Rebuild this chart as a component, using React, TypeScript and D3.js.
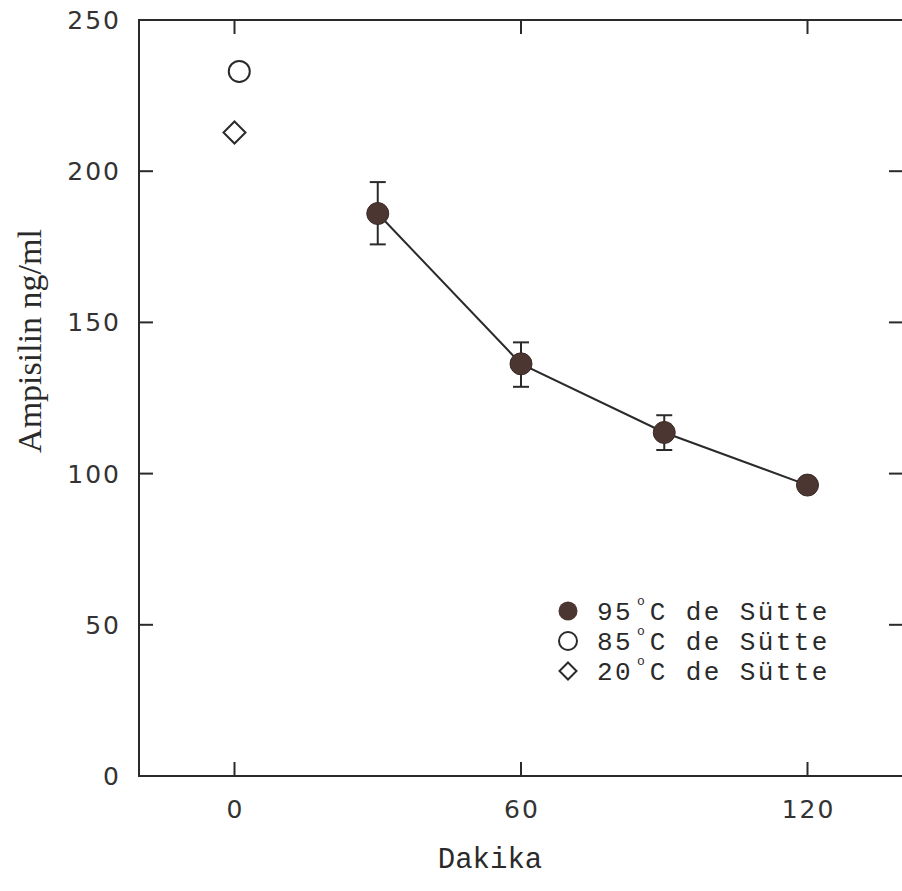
import React, { useEffect, useRef } from "react";
import * as d3 from "d3";

// 95 C series (mean with error bars)
const minutes95 = [30, 60, 90, 120];
const values95 = [186, 136.3, 113.6, 96.2];
const errLow95 = [175.8, 128.7, 107.8, 96.2];
const errHigh95 = [196.4, 143.4, 119.3, 96.2];

// single points at t=0
const point85 = { x: 1, y: 233 };
const point20 = { x: 0, y: 212.8 };

const xTicks = [0, 60, 120];
const yTicks = [0, 50, 100, 150, 200, 250];
const legendLabels = ["95", "85", "20"];

const Chart = () => {
  const ref = useRef<SVGSVGElement>(null);

  useEffect(() => {
    const width = 902;
    const height = 891;
    const left = 139,
      right = 903,
      top = 20,
      bottom = 776;
    const ink = "#2a2a2a";
    const dotFill = "#4b3631";

    const x = d3.scaleLinear([-20, 140], [left, right]);
    const y = d3.scaleLinear([0, 250], [bottom, top]);

    const svg = d3.select(ref.current);
    svg.selectAll("*").remove();
    svg.attr("width", width).attr("height", height).attr("viewBox", [0, 0, width, height]);

    svg.append("rect").attr("width", width).attr("height", height).attr("fill", "#fff");

    // frame
    svg
      .append("rect")
      .attr("x", left)
      .attr("y", top)
      .attr("width", right - left)
      .attr("height", bottom - top)
      .attr("fill", "none")
      .attr("stroke", ink)
      .attr("stroke-width", 2);

    const tickLen = 14;
    const g = svg.append("g").attr("stroke", ink).attr("stroke-width", 2);
    xTicks.forEach((t) => {
      g.append("line").attr("x1", x(t)).attr("x2", x(t)).attr("y1", bottom).attr("y2", bottom - tickLen);
      g.append("line").attr("x1", x(t)).attr("x2", x(t)).attr("y1", top).attr("y2", top + tickLen);
    });
    yTicks.slice(1, -1).forEach((t) => {
      g.append("line").attr("x1", left).attr("x2", left + tickLen).attr("y1", y(t)).attr("y2", y(t));
      g.append("line").attr("x1", right).attr("x2", right - tickLen).attr("y1", y(t)).attr("y2", y(t));
    });

    const tickFont = "'DejaVu Sans', sans-serif";
    svg
      .append("g")
      .selectAll("text")
      .data(xTicks)
      .join("text")
      .attr("x", (d) => x(d) + 1)
      .attr("y", bottom + 42)
      .attr("text-anchor", "middle")
      .attr("font-family", tickFont)
      .attr("font-size", 25)
      .attr("letter-spacing", 2)
      .attr("fill", "#333")
      .text((d) => d);

    svg
      .append("g")
      .selectAll("text")
      .data(yTicks)
      .join("text")
      .attr("x", 121)
      .attr("y", (d) => y(d) + 9)
      .attr("text-anchor", "end")
      .attr("font-family", tickFont)
      .attr("font-size", 25)
      .attr("letter-spacing", 2)
      .attr("fill", "#333")
      .text((d) => d);

    // axis titles
    svg
      .append("text")
      .attr("transform", `translate(41,341) rotate(-90)`)
      .attr("text-anchor", "middle")
      .attr("font-family", "'Liberation Serif', serif")
      .attr("font-size", 34)
      .attr("fill", ink)
      .text("Ampisilin ng/ml");

    svg
      .append("text")
      .attr("x", 490)
      .attr("y", 868)
      .attr("text-anchor", "middle")
      .attr("font-family", "'Liberation Mono', monospace")
      .attr("font-size", 29)
      .attr("fill", ink)
      .text("Dakika");

    // error bars
    const eb = svg.append("g").attr("stroke", ink).attr("stroke-width", 2);
    minutes95.forEach((m, i) => {
      if (errHigh95[i] - errLow95[i] < 1) return;
      const cx = x(m);
      eb.append("line").attr("x1", cx).attr("x2", cx).attr("y1", y(errHigh95[i])).attr("y2", y(errLow95[i]));
      eb.append("line").attr("x1", cx - 8).attr("x2", cx + 8).attr("y1", y(errHigh95[i])).attr("y2", y(errHigh95[i]));
      eb.append("line").attr("x1", cx - 8).attr("x2", cx + 8).attr("y1", y(errLow95[i])).attr("y2", y(errLow95[i]));
    });

    // connecting line
    const line = d3
      .line<number>()
      .x((d, i) => x(minutes95[i]))
      .y((d) => y(d));
    svg
      .append("path")
      .attr("d", line(values95))
      .attr("fill", "none")
      .attr("stroke", ink)
      .attr("stroke-width", 2);

    svg
      .append("g")
      .selectAll("circle")
      .data(values95)
      .join("circle")
      .attr("cx", (d, i) => x(minutes95[i]))
      .attr("cy", (d) => y(d))
      .attr("r", 11)
      .attr("fill", dotFill)
      .attr("stroke", "#3a2a26")
      .attr("stroke-width", 1);

    const diamond = (cx: number, cy: number, r: number) =>
      `M${cx},${cy - r}L${cx + r},${cy}L${cx},${cy + r}L${cx - r},${cy}Z`;

    svg
      .append("circle")
      .attr("cx", x(point85.x))
      .attr("cy", y(point85.y))
      .attr("r", 10.5)
      .attr("fill", "#fff")
      .attr("stroke", ink)
      .attr("stroke-width", 2);

    svg
      .append("path")
      .attr("d", diamond(x(point20.x), y(point20.y), 11))
      .attr("fill", "#fff")
      .attr("stroke", ink)
      .attr("stroke-width", 2);

    // legend
    const lg = svg.append("g");
    const lx = 568;
    const rows = [611, 641, 671];
    lg.append("circle").attr("cx", lx).attr("cy", rows[0]).attr("r", 9.5).attr("fill", dotFill);
    lg.append("circle").attr("cx", lx).attr("cy", rows[1]).attr("r", 9).attr("fill", "none").attr("stroke", ink).attr("stroke-width", 2);
    lg.append("path").attr("d", diamond(lx, rows[2], 8.5)).attr("fill", "none").attr("stroke", ink).attr("stroke-width", 2);

    legendLabels.forEach((lab, i) => {
      const t = lg
        .append("text")
        .attr("x", 597)
        .attr("y", rows[i] + 9)
        .attr("font-family", "'Liberation Mono', monospace")
        .attr("font-size", 26)
        .attr("letter-spacing", 2.4)
        .attr("fill", ink);
      t.append("tspan").text(lab);
      t.append("tspan").attr("font-size", 13).attr("letter-spacing", 0).attr("dx", 4).attr("dy", -15).text("o");
      t.append("tspan").attr("dx", 5).attr("dy", 15).text("C de Sütte");
    });
  }, []);

  return <svg ref={ref} style={{ position: "absolute", left: 0, top: 0 }}></svg>;
};

export default function App() {
  return <Chart />;
}
